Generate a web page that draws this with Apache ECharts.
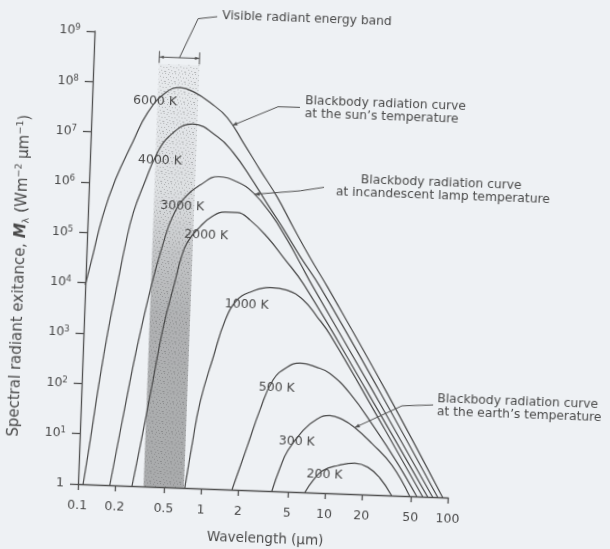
<!DOCTYPE html>
<html>
<head>
<meta charset="utf-8">
<script src="https://cdn.jsdelivr.net/npm/echarts@6/dist/echarts.min.js"></script>
<style>
  html, body { margin: 0; padding: 0; width: 610px; height: 549px; overflow: hidden; background: #eef1f4; }
  #chart { width: 610px; height: 549px; transform-origin: 78px 484px; transform: rotate(2.1deg); }
</style>
</head>
<body>
<div id="chart"></div>
<script>
// ---------------- data (wavelength in µm, exitance in W m^-2 µm^-1) ----------------
const curveNames = ['6000 K', '4000 K', '3000 K', '2000 K', '1000 K', '500 K', '300 K', '200 K'];

const wl6000 = [0.1, 0.112, 0.1315, 0.163, 0.219, 0.284, 0.392, 0.516, 0.66, 0.91, 1.26, 1.73, 2.41, 3.37, 4.63, 6.5, 9.2, 29, 90];
const m6000  = [9e3, 3.3e4, 2.1e5, 1.17e6, 6.6e6, 2.65e7, 6.8e7, 8.8e7, 7.4e7, 4.6e7, 2.4e7, 7.8e6, 2.3e6, 6.9e5, 1.8e5, 4.5e4, 1.2e4, 120, 1];

const wl4000 = [0.11, 0.122, 0.136, 0.158, 0.185, 0.205, 0.233, 0.286, 0.339, 0.427, 0.66, 1.06, 1.44, 2.01, 2.81, 3.85, 5.4, 8.0, 25.5, 82];
const m4000  = [1, 7.6, 76, 1.2e3, 1.3e4, 6.0e4, 2.7e5, 1.2e6, 3.6e6, 9.1e6, 1.7e7, 1.0e7, 4.9e6, 1.67e6, 5.0e5, 1.65e5, 4.7e4, 1.2e4, 122, 1];

const wl3000 = [0.181, 0.229, 0.274, 0.348, 0.416, 0.484, 0.608, 0.80, 1.11, 1.58, 2.15, 2.99, 4.18, 5.4, 6.85, 22.4, 74.6];
const m3000  = [1, 40, 585, 1.17e4, 7.1e4, 2.35e5, 6.0e5, 1.07e6, 1.6e6, 1.3e6, 8.1e5, 3.3e5, 1.0e5, 3.5e4, 1.3e4, 124, 1];

const wl2000 = [0.274, 0.32, 0.373, 0.44, 0.533, 0.577, 0.649, 0.82, 1.02, 1.29, 1.62, 2.07, 2.87, 3.92, 5.9, 20, 68];
const m2000  = [1, 10, 110, 1.5e3, 1.3e4, 3.2e4, 7.5e4, 1.6e5, 2.6e5, 3.2e5, 3.2e5, 2.3e5, 1.1e5, 4.5e4, 1.3e4, 123, 1];

const wl1000 = [0.734, 0.815, 0.92, 1.14, 1.39, 1.71, 2.17, 3.13, 4.3, 5.85, 7.7, 9.9, 24.5, 62];
const m1000  = [1, 7.2, 52, 414, 2.3e3, 5.9e3, 8.6e3, 1.1e4, 1.0e4, 6.6e3, 3.1e3, 1.4e3, 41, 1];

const wl500 = [1.77, 2.27, 2.82, 3.52, 4.53, 5.77, 7.9, 10.1, 14.9, 24.3, 38, 55.5];
const m500  = [1, 7.1, 40, 160, 295, 363, 310, 240, 100, 21, 4.4, 1];

const wl300 = [3.72, 4.26, 4.88, 6.4, 8.2, 10.4, 13.1, 16.7, 23.2, 34.2, 48.6];
const m300  = [1, 2.9, 6.6, 17, 29, 35, 30, 21, 10.5, 4.0, 1];

const wl200 = [6.9, 7.95, 9.5, 12.5, 17.1, 21.9, 27.5, 34.7];
const m200  = [1, 1.75, 2.8, 3.6, 4.1, 3.5, 2.2, 1];

const xTickValues = [0.1, 0.2, 0.5, 1, 2, 5, 10, 20, 50, 100];   // µm
const yTickExponents = [0, 1, 2, 3, 4, 5, 6, 7, 8, 9];           // 10^n
const visibleBand = [0.34, 0.72];                                  // µm
const visibleBandTop = 2.5e8;

// annotation anchor points on curves (data units)
const sunTip = [1.39, 1.7e7];
const lampTip = [2.2, 7.6e5];
const earthTip = [16.7, 21];

// ---------------- chart ----------------
const lg = Math.log10;
const FONT = '"DejaVu Sans", sans-serif';
const INK = '#4a4a4a';
const LINE = '#474747';

const curveData = [
  [wl6000, m6000], [wl4000, m4000], [wl3000, m3000], [wl2000, m2000],
  [wl1000, m1000], [wl500, m500], [wl300, m300], [wl200, m200]
];

// stipple texture tile (fixed dot layout)
const tile = document.createElement('canvas');
tile.width = 10; tile.height = 10;
(function () {
  const c = tile.getContext('2d');
  c.fillStyle = 'rgba(70,70,70,0.32)';
  [[0, 0], [3, 1], [7, 0], [5, 3], [1, 4], [8, 4], [3, 6], [6, 7], [0, 8], [9, 8], [4, 9]].forEach(p => c.fillRect(p[0], p[1], 1, 1));
})();

const chart = echarts.init(document.getElementById('chart'), null, { renderer: 'canvas' });

const series = curveData.map(([wl, m], k) => ({
  name: curveNames[k],
  type: 'line',
  data: wl.map((w, i) => [lg(w), lg(m[i])]),
  showSymbol: false,
  smooth: 0.45,
  lineStyle: { color: LINE, width: 1.2 },
  z: 3,
  silent: true
}));

const bandArea = [[
  { xAxis: lg(visibleBand[0]), yAxis: 0 },
  { xAxis: lg(visibleBand[1]), yAxis: lg(visibleBandTop) }
]];

series[0].markArea = {
  silent: true,
  itemStyle: {
    color: new echarts.graphic.LinearGradient(0, 0, 0, 1, [
      { offset: 0, color: 'rgba(120,120,120,0.05)' },
      { offset: 0.3, color: 'rgba(120,120,120,0.15)' },
      { offset: 0.45, color: 'rgba(110,110,110,0.34)' },
      { offset: 0.6, color: 'rgba(100,100,100,0.45)' },
      { offset: 1, color: 'rgba(100,100,100,0.50)' }
    ])
  },
  data: bandArea
};
series[1].markArea = {
  silent: true,
  itemStyle: { color: { image: tile, repeat: 'repeat' } },
  data: bandArea
};

const axisLineStyle = { color: '#505050', width: 1.3 };

chart.setOption({
  animation: false,
  backgroundColor: 'transparent',
  grid: { left: 78, right: 161.5, top: 31, bottom: 65, outerBoundsMode: 'none', containLabel: false },
  xAxis: {
    type: 'value', min: -1, max: 2,
    axisLine: { show: true, onZero: false, lineStyle: axisLineStyle },
    axisTick: { show: true, length: 6, customValues: xTickValues.map(lg), lineStyle: axisLineStyle },
    axisLabel: {
      customValues: xTickValues.map(lg),
      showMinLabel: true, showMaxLabel: true, hideOverlap: false,
      margin: 15, fontSize: 12.5, fontFamily: FONT, color: INK,
      formatter: v => {
        const t = xTickValues.find(t => Math.abs(lg(t) - v) < 1e-6);
        return t === undefined ? '' : String(t);
      }
    },
    splitLine: { show: false }
  },
  yAxis: {
    type: 'value', min: 0, max: 9, interval: 1,
    axisLine: { show: true, onZero: false, lineStyle: axisLineStyle },
    axisTick: { show: true, length: 8, lineStyle: axisLineStyle },
    axisLabel: {
      margin: 14,
      showMinLabel: true, showMaxLabel: true,
      formatter: v => (v === 0 ? '{b|1}' : '{b|10}{s|' + v + '}'),
      rich: {
        b: { fontSize: 12.5, fontFamily: FONT, color: INK, lineHeight: 15 },
        s: { fontSize: 8.5, fontFamily: FONT, color: INK, lineHeight: 9, verticalAlign: 'top' }
      }
    },
    splitLine: { show: false }
  },
  series
});

// ---------------- annotations ----------------
function px(l, m) { return chart.convertToPixel({ gridIndex: 0 }, [lg(l), lg(m)]); }
function txt(x, y, text, size, align) {
  return {
    type: 'text', x, y, silent: true, z: 10,
    style: {
      text, font: size + 'px ' + FONT, fill: INK,
      align: align || 'left', verticalAlign: 'middle',
      textAlign: align || 'left', textVerticalAlign: 'middle'
    }
  };
}
function poly(points) {
  return { type: 'polyline', silent: true, z: 10, shape: { points }, style: { stroke: '#505050', lineWidth: 1, fill: null } };
}
function arrow(tip, from, size) {
  const dx = tip[0] - from[0], dy = tip[1] - from[1];
  const L = Math.hypot(dx, dy), ux = dx / L, uy = dy / L;
  const bx = tip[0] - ux * size, by = tip[1] - uy * size, w = size * 0.4;
  return { type: 'polygon', silent: true, z: 10,
    shape: { points: [tip, [bx - uy * w, by + ux * w], [bx + uy * w, by - ux * w]] },
    style: { fill: '#505050' } };
}

const g = [];
const ANN = 12.3;

// curve labels
const labelPos = [[141, 99], [148, 158], [172, 203], [197, 231], [240, 299], [273, 381], [295, 434], [324, 466]];
curveNames.forEach((n, i) => g.push(txt(labelPos[i][0], labelPos[i][1], n, 12.5, 'center')));

// visible band bracket + leader
const bx0 = px(visibleBand[0], 1)[0], bx1 = px(visibleBand[1], 1)[0], by = 54.3;
g.push(poly([[bx0, by], [bx1, by]]));
g.push(poly([[bx0, by - 6], [bx0, by + 6]]));
g.push(poly([[bx1, by - 6], [bx1, by + 6]]));
g.push(arrow([bx0 + 0.5, by], [bx0 + 6, by], 4));
g.push(arrow([bx1 - 0.5, by], [bx1 - 6, by], 4));
const bc = [(bx0 + bx1) / 2, by];
g.push(poly([bc, [181, 14.6], [200, 11.9]]));
g.push(txt(205, 10.5, 'Visible radiant energy band', ANN));

// sun
const st = px(sunTip[0], sunTip[1]);
g.push(poly([st, [264, 99.7], [286, 99.5]]));
g.push(arrow(st, [264, 99.7], 5));
g.push(txt(291, 93, 'Blackbody radiation curve', ANN));
g.push(txt(291, 105.5, 'at the sun\u2019s temperature', ANN));

// lamp
const lt = px(lampTip[0], lampTip[1]);
g.push(poly([lt, [289.3, 182.9], [313, 178.5]]));
g.push(arrow(lt, [289.3, 182.9], 5));
g.push(txt(430, 169.5, 'Blackbody radiation curve', ANN, 'center'));
g.push(txt(432, 183, 'at incandescent lamp temperature', ANN, 'center'));

// earth
const et = px(earthTip[0], earthTip[1]);
g.push(poly([et, [399, 394], [430, 392]]));
g.push(arrow(et, [399, 394], 5));
g.push(txt(434, 386, 'Blackbody radiation curve', ANN));
g.push(txt(434, 398.5, 'at the earth\u2019s temperature', ANN));

// axis titles
g.push(txt(267, 532, 'Wavelength (\u00b5m)', 13.5, 'center'));
g.push({
  type: 'text', x: 12.5, y: 278, rotation: Math.PI / 2, silent: true, z: 10,
  style: {
    text: '{t|Spectral radiant exitance, }{mi|M}{sub|\u03bb}{t| (Wm}{sup|\u22122}{t| \u00b5m}{sup|\u22121}{t|)}',
    font: '15px ' + FONT, fill: INK,
    align: 'center', verticalAlign: 'middle', textAlign: 'center', textVerticalAlign: 'middle',
    rich: {
      t: { fontSize: 15, fontFamily: FONT, color: INK, lineHeight: 19 },
      mi: { fontSize: 15, fontFamily: FONT, color: INK, lineHeight: 19, fontStyle: 'italic', fontWeight: 'bold' },
      sub: { fontSize: 9.5, fontFamily: FONT, color: INK, lineHeight: 9, verticalAlign: 'bottom' },
      sup: { fontSize: 9.5, fontFamily: FONT, color: INK, lineHeight: 9, verticalAlign: 'top' }
    }
  }
});

chart.setOption({ graphic: { elements: g } });
</script>
</body>
</html>
